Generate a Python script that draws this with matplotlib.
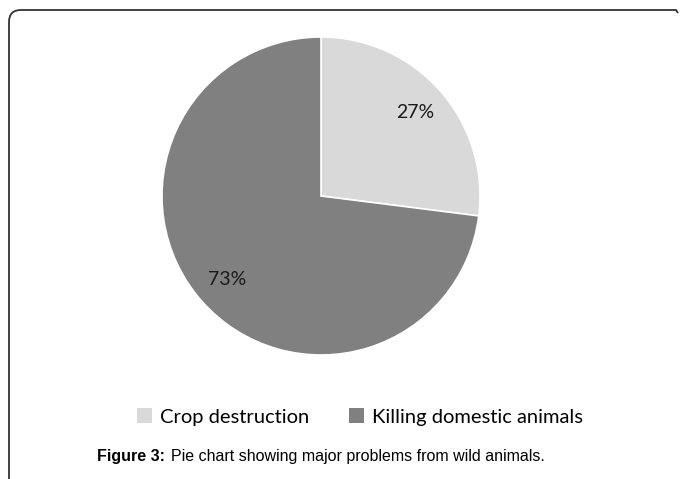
import matplotlib.pyplot as plt
from matplotlib.patches import Patch, PathPatch
from matplotlib.path import Path

# --- DATA ---
labels = ["Crop destruction", "Killing domestic animals"]
shares = [27, 73]
colors = ["#d9d9d9", "#808080"]

W, H = 683, 479

fig = plt.figure(figsize=(W / 100, H / 100), dpi=100)


def fx(px):
    return px / W


def fy(py):
    return 1 - py / H


# pie axes, centre ~ (321, 196), radius ~ 159 px
cx, cy, r = 321, 196, 159
ax = fig.add_axes([fx(cx - r), fy(cy + r), 2 * r / W, 2 * r / H])
wedges, texts, autotexts = ax.pie(
    shares, colors=colors, startangle=90, counterclock=False,
    autopct='%d%%', pctdistance=0.79,
    wedgeprops=dict(edgecolor='white', linewidth=1.2),
    textprops=dict(fontsize=14, family='Lato', color='#1a1a1a'),
)
ax.set_xlim(-1, 1)
ax.set_ylim(-1, 1)
ax.set_aspect('equal')

# legend
handles = [Patch(facecolor=c, edgecolor='none') for c in colors]
fig.legend(handles, labels, loc='center', bbox_to_anchor=(fx(360), fy(417)),
           ncol=2, frameon=False, handlelength=0.75, handleheight=0.75,
           handletextpad=0.4, columnspacing=2.0,
           prop=dict(family='Lato', size=14.5))

# caption
fig.text(fx(97), fy(456), "Figure 3:", fontsize=11.5, fontweight='bold',
         family='Liberation Sans', va='center', ha='left')
fig.text(fx(171), fy(456), "Pie chart showing major problems from wild animals.",
         fontsize=11.5, family='Liberation Sans', va='center', ha='left')

# frame: left line, rounded top-left corner, top line
verts = [(fx(9), fy(479)), (fx(9), fy(22)), (fx(9), fy(10)), (fx(21), fy(10)),
         (fx(676), fy(10)), (fx(678), fy(13))]
codes = [Path.MOVETO, Path.LINETO, Path.CURVE3, Path.CURVE3, Path.LINETO, Path.LINETO]
frame = PathPatch(Path(verts, codes), facecolor='none', edgecolor='#333333',
                  linewidth=1.3, transform=fig.transFigure)
fig.patches.append(frame)

fig.savefig("out.png", dpi=100)
